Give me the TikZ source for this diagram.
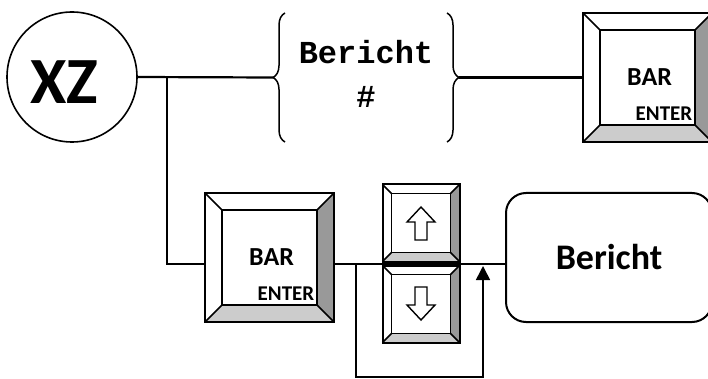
\documentclass[tikz,border=0pt]{standalone}
\usepackage{fontspec}
\setmainfont{Carlito}
\newfontfamily\codefont{Liberation Mono}
\usetikzlibrary{calc,positioning,decorations.pathreplacing,arrows.meta}
\definecolor{bevelD}{HTML}{999999}
\definecolor{bevelL}{HTML}{CCCCCC}

\tikzset{
  wire/.style={line width=2.2pt},
  keycap/.style={draw,line width=2pt,fill=white,inner sep=0pt,outer sep=0pt,
    minimum width=#1,minimum height=#1},
  keyedge/.style={line width=1.6pt,line join=miter},
  keyarrow/.style={line width=1.4pt,fill=white,line join=miter},
  curly/.style={line width=1.5pt,decorate,decoration={brace,amplitude=12pt}},
  bartxt/.style={font=\bfseries\fontsize{26}{26}\selectfont,inner sep=0pt},
  entertxt/.style={font=\bfseries\fontsize{21}{21}\selectfont,inner sep=0pt},
  codetxt/.style={font=\codefont\bfseries\fontsize{32}{32}\selectfont,inner sep=0pt},
}

% bevel of a key: #1 node name, #2 bevel width
\newcommand{\keybevel}[2]{%
  \coordinate (#1-a) at ($(#1.north west)+(#2,#2)$);
  \coordinate (#1-b) at ($(#1.north east)+(-#2,#2)$);
  \coordinate (#1-c) at ($(#1.south east)+(-#2,-#2)$);
  \coordinate (#1-d) at ($(#1.south west)+(#2,-#2)$);
  \fill[bevelD] (#1.north east) -- (#1.south east) -- (#1-c) -- (#1-b) -- cycle;
  \fill[bevelL] (#1.south west) -- (#1.south east) -- (#1-c) -- (#1-d) -- cycle;
  \draw[keyedge] (#1-a) rectangle (#1-c);
  \foreach \cn/\cl in {north west/a,north east/b,south east/c,south west/d}
    \draw[keyedge] (#1.\cn) -- (#1-\cl);
  \draw[keyedge,line width=2pt] (#1.north west) rectangle (#1.south east);
}

\begin{document}
\begin{tikzpicture}[x=1pt,y=-1pt]
  \useasboundingbox (0,0) rectangle (708,379);
  \clip (0,0) rectangle (708,379);

  % start
  \node[draw,circle,line width=1.6pt,minimum size=130pt,inner sep=0pt,outer sep=0pt] (xz) at (72,77) {};
  \node[font=\bfseries\fontsize{66}{66}\selectfont,inner sep=0pt] (xz-t) at (64,82) {XZ};

  % report number in braces
  \node[minimum width=162pt,minimum height=129pt,inner sep=0pt,outer sep=0pt] (code) at (366,77.5) {};
  \draw[curly] (code.south west) -- (code.north west);
  \draw[curly] (code.north east) -- (code.south east);
  \coordinate (codeL) at ($(code.west)+(-12,0)$);
  \coordinate (codeR) at ($(code.east)+(12,0)$);
  \node[codetxt] (code-t) at (366,52) {Bericht};
  \node[codetxt] (code-n) at (366,97) {\#};

  % keys
  \node[keycap=129pt] (topkey) at (647.5,77.5) {};
  \keybevel{topkey}{17}
  \node[keycap=129pt] (enter) at (269.5,257.5) {};
  \keybevel{enter}{17}
  \node[keycap=77pt] (up) at (421,223) {};
  \keybevel{up}{9}
  \node[keycap=77pt] (down) at (421,304) {};
  \keybevel{down}{9}
  \foreach \k in {topkey,enter}{
    \node[bartxt] (\k-bar) at ($(\k.north west)+(66.5,64.5)$) {BAR};
    \node[entertxt] (\k-ent) at ($(\k.north west)+(81,101)$) {ENTER};
  }
  \foreach \k/\s in {up/1,down/-1}
    \draw[keyarrow,shift={(\k.center)},yscale=\s]
      (0,-16) -- (14,-1) -- (6,-1) -- (6,17) -- (-6,17) -- (-6,-1) -- (-14,-1) -- cycle;

  % result
  \node[draw,line width=2pt,rounded corners=20pt,minimum width=206pt,minimum height=129pt,
        font=\bfseries\fontsize{36}{36}\selectfont] (report) at (609,257.5) {Bericht};

  % wires
  \coordinate (split) at (167,77);
  \coordinate (mainy) at (0,264);
  \coordinate (loopL) at (356,264);
  \coordinate (loopR) at (483,264);
  \draw[wire] (xz.east) -- (codeL);
  \draw[wire] (codeR) -- (topkey.west);
  \draw[wire] (split) |- (enter.west |- mainy);
  \draw[wire] (enter.east |- mainy) -- (report.west |- mainy);
  \draw[wire,line width=1.6pt,-{Triangle[length=14pt,width=14pt]}]
    (loopL) -- ++(0,113) -| ($(loopR)+(0,2)$);
\end{tikzpicture}
\end{document}
